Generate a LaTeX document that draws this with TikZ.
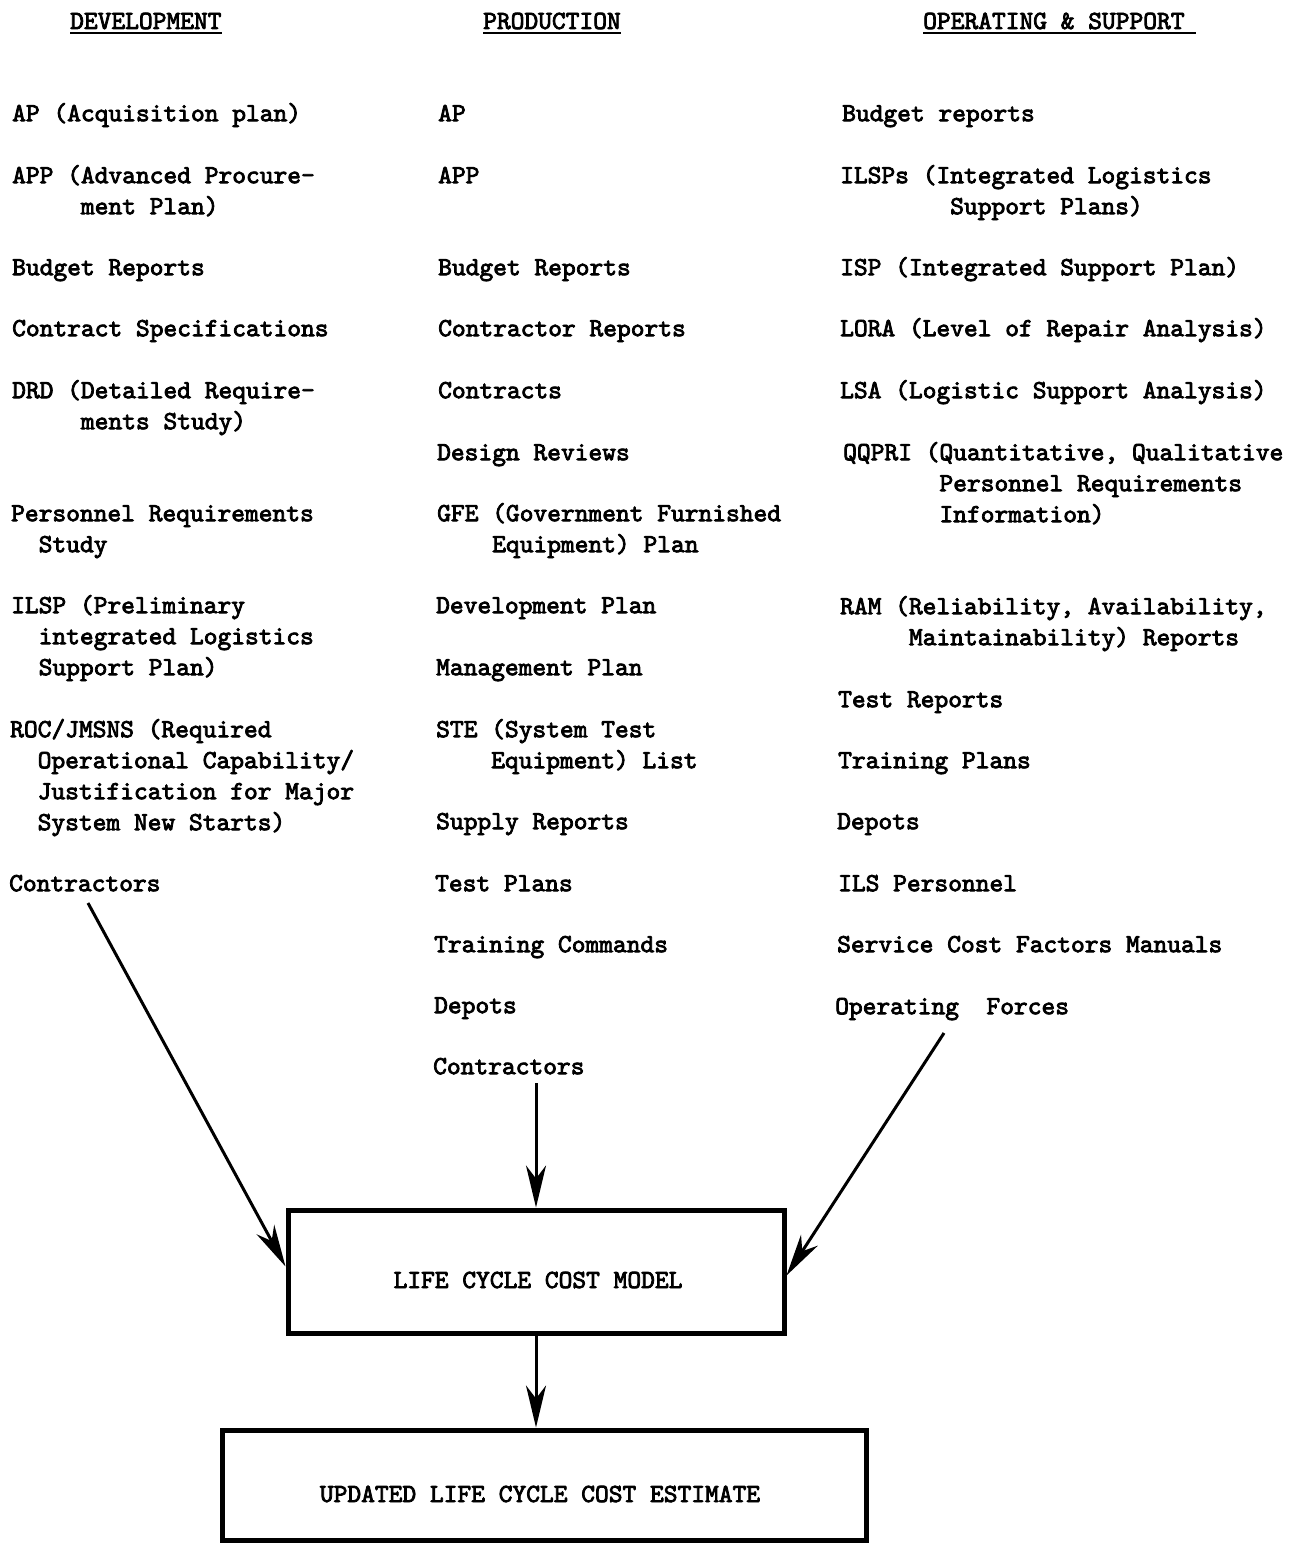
\documentclass[tikz,border=0pt]{standalone}
\usepackage{fontspec}
\newfontfamily\tw{lmmono10-regular.otf}[FakeBold=3]
\usetikzlibrary{arrows.meta}
\newlength\cw \setlength\cw{13.755pt}
\newcommand\ind[1]{\hspace*{#1\cw}}
\tikzset{
  entry/.style={anchor=north west, inner sep=0pt, align=left,
    font=\tw\fontsize{26.2pt}{31pt}\selectfont},
  hdr/.style={anchor=base west, inner sep=0pt,
    font=\tw\fontsize{26.2pt}{31pt}\selectfont},
  btext/.style={anchor=base, inner sep=0pt,
    font=\tw\fontsize{26.2pt}{31pt}\selectfont},
  bigbox/.style={draw, line width=5pt, inner sep=0pt},
  arr/.style={line width=3pt, -{Stealth[length=42pt,width=20pt,inset=13pt]}},
  uline/.style={line width=2.5pt}
}
\newcommand\E[4]{\node[entry] (#3) at (#1,#2-22) {\rule{0pt}{22pt}#4};}
\begin{document}
\begin{tikzpicture}[x=1pt,y=-1pt]
\useasboundingbox[fill=white] (0,0) rectangle (1293,1544);

% headers
\node[hdr] (h1) at (70,29) {DEVELOPMENT};
\node[hdr] (h2) at (483,29) {PRODUCTION};
\node[hdr] (h3) at (923,29) {OPERATING \& SUPPORT};
\draw[uline] ([yshift=-4pt]h1.base west) -- ([yshift=-4pt]h1.base east);
\draw[uline] ([yshift=-4pt]h2.base west) -- ([yshift=-4pt]h2.base east);
\draw[uline] ([yshift=-4pt]h3.base west) -- ([xshift=11pt,yshift=-4pt]h3.base east);

% development column
\E{12}{121}{d1}{AP (Acquisition plan)}
\E{12}{183}{d2}{APP (Advanced Procure-\\\ind{5}ment Plan)}
\E{12}{275}{d3}{Budget Reports}
\E{12}{336}{d4}{Contract Specifications}
\E{12}{398}{d5}{DRD (Detailed Require-\\\ind{5}ments Study)}
\E{11}{521}{d6}{Personnel Requirements\\\ind{2}Study}
\E{11}{613}{d7}{ILSP (Preliminary\\\ind{2}integrated Logistics\\\ind{2}Support Plan)}
\E{10}{737}{d8}{ROC/JMSNS (Required\\\ind{2}Operational Capability/\\\ind{2}Justification for Major\\\ind{2}System New Starts)}
\E{9}{891}{d9}{Contractors}

% production column
\E{438}{121}{p1}{AP}
\E{438}{183}{p2}{APP}
\E{438}{275}{p3}{Budget Reports}
\E{438}{336}{p4}{Contractor Reports}
\E{438}{398}{p5}{Contracts}
\E{437}{460}{p6}{Design Reviews}
\E{437}{521}{p7}{GFE (Government Furnished\\\ind{4}Equipment) Plan}
\E{436}{613}{p8}{Development Plan}
\E{436}{675}{p9}{Management Plan}
\E{436}{737}{p10}{STE (System Test\\\ind{4}Equipment) List}
\E{436}{829}{p11}{Supply Reports}
\E{435}{891}{p12}{Test Plans}
\E{434}{952}{p13}{Training Commands}
\E{434}{1013}{p14}{Depots}
\E{433}{1074}{p15}{Contractors}

% operating & support column
\E{842}{121}{o1}{Budget reports}
\E{840}{183}{o2}{ILSPs (Integrated Logistics\\\ind{8}Support Plans)}
\E{840}{275}{o3}{ISP (Integrated Support Plan)}
\E{840}{336}{o4}{LORA (Level of Repair Analysis)}
\E{840}{398}{o5}{LSA (Logistic Support Analysis)}
\E{843}{460}{o6}{QQPRI (Quantitative, Qualitative\\\ind{7}Personnel Requirements\\\ind{7}Information)}
\E{840}{614}{o7}{RAM (Reliability, Availability,\\\ind{5}Maintainability) Reports}
\E{838}{707}{o8}{Test Reports}
\E{838}{768}{o9}{Training Plans}
\E{837}{829}{o10}{Depots}
\E{838}{891}{o11}{ILS Personnel}
\E{837}{952}{o12}{Service Cost Factors Manuals}
\E{835}{1014}{o13}{Operating\ \ Forces}

% boxes
\node[bigbox, minimum width=496pt, minimum height=123pt] (lcc) at (536,1271.5) {};
\node[btext] (lcct) at (538,1288) {LIFE CYCLE COST MODEL};
\node[bigbox, minimum width=644pt, minimum height=110pt] (upd) at (544,1485) {};
\node[btext] (updt) at (540,1502) {UPDATED LIFE CYCLE COST ESTIMATE};

% connectors
\coordinate (da) at (88,903);
\coordinate (pa) at (536,1083);
\coordinate (oa) at (944,1033);
\draw[arr] (da) -- ([yshift=5pt]lcc.west);
\draw[arr] (pa) -- (lcc.north);
\draw[arr] (oa) -- ([yshift=-4pt]lcc.east);
\draw[arr] (lcc.south) -- (lcc.south |- upd.north);
\end{tikzpicture}
\end{document}
